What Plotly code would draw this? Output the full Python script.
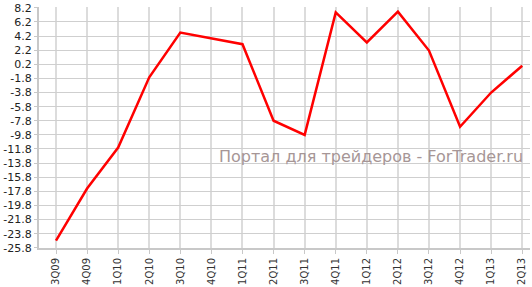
import plotly.graph_objects as go

quarters = ["3Q09", "4Q09", "1Q10", "2Q10", "3Q10", "4Q10", "1Q11", "2Q11", "3Q11",
            "4Q11", "1Q12", "2Q12", "3Q12", "4Q12", "1Q13", "2Q13"]
values = [-24.8, -17.4, -11.6, -1.65, 4.7, 3.9, 3.05, -7.8, -9.8,
          7.55, 3.3, 7.65, 2.15, -8.65, -3.8, 0.0]
ytick_vals = [round(8.2 - 2 * i, 1) for i in range(18)]
ytick_text = ["%.1f" % v for v in ytick_vals]

W, H = 532, 287
ML, MR, MT, MB = 39, 2, 5, 38

fig = go.Figure()
fig.add_trace(go.Scatter(
    x=list(range(len(quarters))), y=values, mode="lines",
    line=dict(color="#ff0000", width=2.5), hoverinfo="skip", showlegend=False))

fig.add_annotation(
    text="Портал для трейдеров - ForTrader.ru",
    xref="paper", yref="paper",
    x=(525 - ML) / (W - ML - MR), y=1 - (156 - MT) / (H - MT - MB),
    xanchor="right", yanchor="middle", showarrow=False,
    font=dict(family="DejaVu Sans", size=16, color="#a69696"))

fig.update_layout(
    width=W, height=H, margin=dict(l=ML, r=MR, t=MT, b=MB),
    paper_bgcolor="white", plot_bgcolor="white",
    font=dict(family="DejaVu Sans", color="#222222"),
    xaxis=dict(
        tickmode="array", tickvals=list(range(len(quarters))), ticktext=quarters,
        range=[-0.547, 15.25], tickangle=-90, tickfont=dict(size=10, color="#333333"),
        showgrid=True, gridcolor="#dcdcdc", gridwidth=2,
        showline=True, linecolor="#c8c8c8", linewidth=2,
        ticks="outside", ticklen=4, tickcolor="#c8c8c8", zeroline=False),
    yaxis=dict(
        tickmode="array", tickvals=ytick_vals, ticktext=ytick_text,
        range=[-25.83, 8.32], tickfont=dict(size=11, color="#222222"),
        ticklabeloverflow="allow",
        showgrid=True, gridcolor="#cfcfcf", gridwidth=1,
        showline=True, linecolor="#c8c8c8", linewidth=2,
        ticks="outside", ticklen=3, tickcolor="#c8c8c8", zeroline=False),
)

fig.write_html("out.html")
